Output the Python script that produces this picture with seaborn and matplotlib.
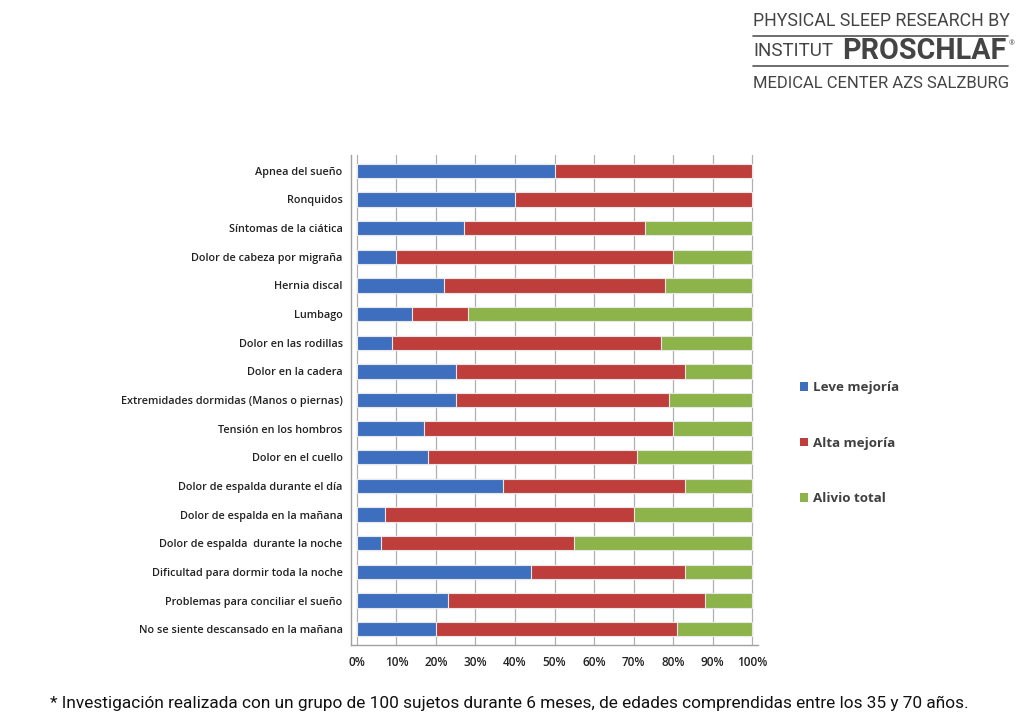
import matplotlib
matplotlib.use("Agg")
import matplotlib.pyplot as plt
import seaborn as sns
import pandas as pd
import numpy as np
from matplotlib.patches import Patch
from matplotlib.lines import Line2D

categories = [
    "Apnea del sueño",
    "Ronquidos",
    "Síntomas de la ciática",
    "Dolor de cabeza por migraña",
    "Hernia discal",
    "Lumbago",
    "Dolor en las rodillas",
    "Dolor en la cadera",
    "Extremidades dormidas (Manos o piernas)",
    "Tensión en los hombros",
    "Dolor en el cuello",
    "Dolor de espalda durante el día",
    "Dolor de espalda en la mañana",
    "Dolor de espalda  durante la noche",
    "Dificultad para dormir toda la noche",
    "Problemas para conciliar el sueño",
    "No se siente descansado en la mañana",
]
leve = [50, 40, 27, 10, 22, 14, 9, 25, 25, 17, 18, 37, 7, 6, 44, 23, 20]
alta = [50, 60, 46, 70, 56, 14, 68, 58, 54, 63, 53, 46, 63, 49, 39, 65, 61]
alivio = [0, 0, 27, 20, 22, 72, 23, 17, 21, 20, 29, 17, 30, 45, 17, 12, 19]
series_names = ["Leve mejoría", "Alta mejoría", "Alivio total"]
xticks = [0, 10, 20, 30, 40, 50, 60, 70, 80, 90, 100]
xticklabels = ["0%", "10%", "20%", "30%", "40%", "50%", "60%", "70%", "80%", "90%", "100%"]

colors = ["#3E6FBE", "#BE3E3B", "#8DB34B"]

sns.set_theme(style="white")
plt.rcParams['font.family'] = ['Open Sans', 'DejaVu Sans']

df = pd.DataFrame({"cat": categories, "leve": leve, "alta": alta, "alivio": alivio})
df["c1"] = df["leve"]
df["c2"] = df["leve"] + df["alta"]
df["c3"] = df["leve"] + df["alta"] + df["alivio"]

fig = plt.figure(figsize=(10.24, 7.26), dpi=100)
ax = fig.add_axes([351/1024, 1-645/726, 407/1024, 490/726])

for col, c in zip(["c3", "c2", "c1"], colors[::-1]):
    sns.barplot(data=df, x=col, y="cat", orient="h", color=c, width=0.5,
                edgecolor="#e8e8e8", linewidth=0.8, saturation=1, ax=ax, order=categories)

ax.set_xlim(-1.5, 101.5)
ax.set_ylim(16.55, -0.55)
ax.set_xticks(xticks)
ax.set_xticklabels(xticklabels, fontsize=8.5, color="#222222", fontweight="semibold")
ax.set_yticks(range(len(categories)))
ax.set_yticklabels(categories, fontsize=7.8, color="#222222", fontweight="semibold")
ax.set_xlabel("")
ax.set_ylabel("")
ax.xaxis.grid(True, color="#b0b0b0", linewidth=0.9)
ax.set_axisbelow(True)
for s in ["top", "right"]:
    ax.spines[s].set_visible(False)
for s in ["left", "bottom"]:
    ax.spines[s].set_color("#a0a0a0")
    ax.spines[s].set_linewidth(1.0)
ax.tick_params(axis="y", length=0, pad=6)
ax.tick_params(axis="x", length=0, pad=8)

handles = [Patch(facecolor=c, edgecolor="none") for c in colors]
leg = fig.legend(handles, series_names, loc="upper left",
                 bbox_to_anchor=(788/1024, 1-369/726), frameon=False,
                 fontsize=9.6, labelspacing=3.2, handlelength=0.6, handleheight=0.6,
                 handletextpad=0.4)
for t in leg.get_texts():
    t.set_fontweight("bold")
    t.set_color("#404040")

renderer = fig.canvas.get_renderer()


def fit_text(x, y, s, width_px, fs=12, **kw):
    t = fig.text(x/1024, 1-y/726, s, fontsize=fs, va="center", ha="left", **kw)
    w = t.get_window_extent(renderer=renderer).width
    t.set_fontsize(fs*width_px/w)
    return t


logo_font = ['Roboto', 'DejaVu Sans']
fit_text(753, 21, "PHYSICAL SLEEP RESEARCH BY", 255, color="#444444", family=logo_font)
fig.add_artist(Line2D([753/1024, 1008/1024], [1-36/726, 1-36/726], color="#555555", lw=1.2))
fit_text(753, 51, "INSTITUT", 80, color="#444444", family=logo_font)
fit_text(842, 51, "PROSCHLAF", 163, color="#444444", family=logo_font, fontweight="bold")
fig.text(1009/1024, 1-44/726, "®", fontsize=5, color="#444444", va="center", ha="left")
fig.add_artist(Line2D([753/1024, 1008/1024], [1-66/726, 1-66/726], color="#555555", lw=1.2))
fit_text(753, 84, "MEDICAL CENTER AZS SALZBURG", 255, color="#444444", family=logo_font)

fit_text(50, 703,
         "* Investigación realizada con un grupo de 100 sujetos durante 6 meses, de edades comprendidas entre los 35 y 70 años.",
         918, color="#111111", family=logo_font)

fig.savefig("out.png", dpi=100, facecolor="white")
